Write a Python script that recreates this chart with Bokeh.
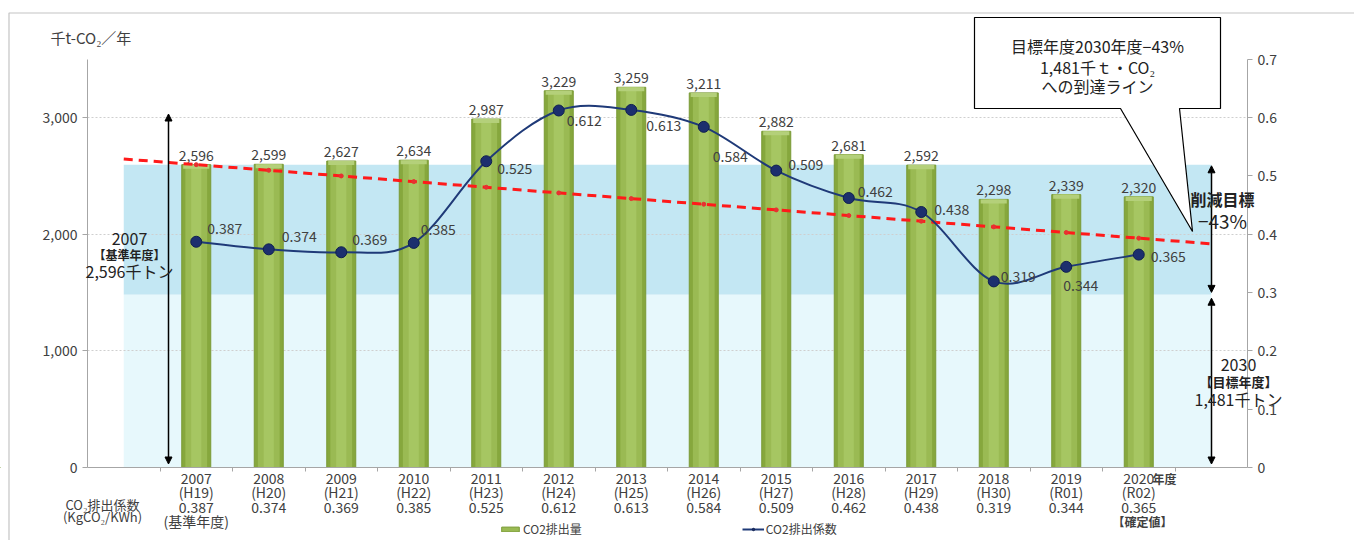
from bokeh.plotting import figure
from bokeh.layouts import column, row
from bokeh.models import (Range1d, LinearAxis, FixedTicker, Label, ColumnDataSource,
                          Arrow, NormalHead, Legend, LegendItem)
from bokeh.core.properties import value
from bokeh.embed import file_html
from bokeh.resources import INLINE

# ---------------- data ----------------
years = ["2007", "2008", "2009", "2010", "2011", "2012", "2013", "2014",
         "2015", "2016", "2017", "2018", "2019", "2020"]
eras = ["(H19)", "(H20)", "(H21)", "(H22)", "(H23)", "(H24)", "(H25)", "(H26)",
        "(H27)", "(H28)", "(H29)", "(H30)", "(R01)", "(R02)"]
emissions = [2596, 2599, 2627, 2634, 2987, 3229, 3259, 3211, 2882, 2681, 2592, 2298, 2339, 2320]
coef = [0.387, 0.374, 0.369, 0.385, 0.525, 0.612, 0.613, 0.584, 0.509, 0.462, 0.438, 0.319, 0.344, 0.365]
base_value = 2596      # 2007 base year
target_value = 1481    # 2030 target
base_year = 2007
target_year = 2030
left_ticks = [0, 1000, 2000, 3000]
left_tick_labels = ["0", "1,000", "2,000", "3,000"]
right_ticks = [0, 0.1, 0.2, 0.3, 0.4, 0.5, 0.6, 0.7]
right_tick_labels = ["0", "0.1", "0.2", "0.3", "0.4", "0.5", "0.6", "0.7"]

FONT = "Noto Sans CJK JP"
TXT = "#404040"
DARK = "#222222"

xs = [i + 1.5 for i in range(len(years))]
n = len(xs)

W, H = 1354, 540
FL, FR, FT, FB = 87, 1247, 12, 467      # frame edges (px)
PXU = (FB - FT) / 3900                 # px per left-axis unit
PXX = (FR - FL) / 16                   # px per category slot

def ypx(py):
    return (FB - py) / PXU

def xpx(px):
    return (px - FL) / PXX

p = figure(width=W, height=H, output_backend="svg", toolbar_location=None,
           x_range=Range1d(0, 16), y_range=Range1d(0, 3900),
           min_border_left=FL, min_border_right=W - FR, min_border_top=FT, min_border_bottom=H - FB)
p.outline_line_color = None
p.background_fill_color = "white"
p.border_fill_color = "white"
p.extra_y_ranges = {"coef": Range1d(0, 0.78)}

# x axis: category labels as multi-line tick labels, boundary ticks as minor ticks
xlabels = {}
for i, x in enumerate(xs):
    extra = "\n(基準年度)" if i == 0 else ""
    xlabels[x] = f"{years[i]}\n{eras[i]}\n{coef[i]:.3f}{extra}"
p.xaxis.ticker = FixedTicker(ticks=xs, minor_ticks=list(range(1, 16)))
p.xaxis.major_label_overrides = xlabels
p.xaxis.major_label_text_font = FONT
p.xaxis.major_label_text_font_size = "14px"
p.xaxis.major_label_text_color = TXT
p.xaxis.major_label_text_line_height = 0.73
p.xaxis.major_label_standoff = -4
p.xaxis.axis_line_color = "#a6a6a6"
p.xaxis.minor_tick_line_color = "#a6a6a6"
p.xaxis.minor_tick_in = 0
p.xaxis.minor_tick_out = 4
p.xaxis.major_tick_line_color = None
p.xaxis.major_tick_out = 0
p.xaxis.major_tick_in = 0

ax = p.yaxis[0]
ax.ticker = FixedTicker(ticks=left_ticks)
ax.major_label_overrides = {t: l for t, l in zip(left_ticks, left_tick_labels)}
ax.bounds = (0, 3500)
ax.axis_line_color = "#a6a6a6"
ax.major_tick_line_color = "#a6a6a6"
ax.minor_tick_line_color = None
ax.major_tick_in = 0
ax.major_tick_out = 5
ax.major_label_text_font = FONT
ax.major_label_text_font_size = "14px"
ax.major_label_text_color = TXT

ra = LinearAxis(y_range_name="coef", ticker=FixedTicker(ticks=right_ticks), bounds=(0, 0.7))
ra.major_label_overrides = {t: l for t, l in zip(right_ticks, right_tick_labels)}
ra.axis_line_color = "#a6a6a6"
ra.major_tick_line_color = "#a6a6a6"
ra.minor_tick_line_color = None
ra.major_tick_in = 0
ra.major_tick_out = 5
ra.major_label_text_font = FONT
ra.major_label_text_font_size = "14px"
ra.major_label_text_color = TXT
p.add_layout(ra, "right")

p.xgrid.visible = False
p.ygrid.ticker = FixedTicker(ticks=left_ticks[1:])
p.ygrid.grid_line_color = "#cfcfcf"
p.ygrid.grid_line_dash = "2 2"

# background bands
p.quad(left=[0.5], right=[15.5], bottom=[target_value], top=[base_value],
       fill_color="#c3e7f3", line_color=None, level="underlay")
p.quad(left=[0.5], right=[15.5], bottom=[0], top=[target_value],
       fill_color="#e7f8fc", line_color=None, level="underlay")

# bars with pseudo-3D shading
bar_src = ColumnDataSource(dict(x=xs, top=emissions, cap=[v - 35 for v in emissions],
                                lab=[f"{v:,}" for v in emissions]))
p.vbar(x="x", top="top", width=0.4, source=bar_src, fill_color="#86a73d", line_color="#7a9a36")
p.vbar(x="x", top="top", width=0.3, source=bar_src, fill_color="#9aba53", line_color=None)
p.vbar(x="x", top="top", width=0.14, source=bar_src, fill_color="#a6c662", line_color=None)
p.vbar(x="x", top="top", bottom="cap", width=0.36, source=bar_src, fill_color="#b4d07a", line_color=None)
p.text(x="x", y="top", text="lab", source=bar_src, text_align="center", text_baseline="bottom",
       y_offset=-4, text_font=value(FONT), text_font_size="14px", text_color=TXT)

# red dashed target line
slope = (base_value - target_value) / (target_year - base_year)
tx = [0.5, 15.5]
ty = [base_value - slope * (x - 1.5) for x in tx]
p.line(tx, ty, line_color="#ff1a1a", line_width=3, line_dash="9 6")
p.scatter(xs, [base_value - slope * (x - 1.5) for x in xs], size=4, color="#e83030")

# smooth coefficient line (Catmull-Rom as bezier segments)
bx0, by0, bx1, by1, cx0, cy0, cx1, cy1 = [], [], [], [], [], [], [], []
for i in range(n - 1):
    i0 = max(i - 1, 0)
    i3 = min(i + 2, n - 1)
    bx0.append(xs[i]); by0.append(coef[i])
    bx1.append(xs[i + 1]); by1.append(coef[i + 1])
    cx0.append(xs[i] + (xs[i + 1] - xs[i0]) / 6); cy0.append(coef[i] + (coef[i + 1] - coef[i0]) / 6)
    cx1.append(xs[i + 1] - (xs[i3] - xs[i]) / 6); cy1.append(coef[i + 1] - (coef[i3] - coef[i]) / 6)
p.bezier(x0=bx0, y0=by0, x1=bx1, y1=by1, cx0=cx0, cy0=cy0, cx1=cx1, cy1=cy1,
         line_color="#1f3a78", line_width=2, y_range_name="coef")
p.scatter(xs, coef, size=11, fill_color="#1c2f6e", line_color="#10204f", y_range_name="coef")

lab_dx = [11, 13, 11, 7, 11, 8, 15, 9, 12, 9, 13, 7, -3, 12]
lab_dy = [-13, -13, -13, -13, 7, 10, 16, 30, -6, -7, -3, -5, 19, 2]
coef_src = ColumnDataSource(dict(x=xs, y=coef, t=[f"{c:.3f}" for c in coef], dx=lab_dx, dy=lab_dy))
p.text(x="x", y="y", text="t", x_offset="dx", y_offset="dy", source=coef_src, y_range_name="coef",
       text_align="left", text_baseline="middle", text_font=value(FONT), text_font_size="14px",
       text_color=TXT)

# arrows (inside the frame)
head = dict(size=7, fill_color="black", line_color="black")
p.add_layout(Arrow(start=NormalHead(**head), end=NormalHead(**head),
                   x_start=xpx(168), y_start=30, x_end=xpx(168), y_end=3030,
                   line_color="black", line_width=1.5))
xr = xpx(1211)
p.add_layout(Arrow(start=NormalHead(**head), end=NormalHead(**head),
                   x_start=xr, y_start=target_value + 20, x_end=xr, y_end=base_value - 10,
                   line_color="black", line_width=1.5))
p.add_layout(Arrow(start=NormalHead(**head), end=NormalHead(**head),
                   x_start=xr, y_start=30, x_end=xr, y_end=target_value - 30,
                   line_color="black", line_width=1.5))

# ---------- transparent overlay using the same data coordinates over the whole canvas ----------
q = figure(width=W, height=H, output_backend="svg", toolbar_location=None,
           x_range=Range1d(xpx(0), xpx(W)), y_range=Range1d(ypx(H), ypx(0)),
           x_axis_type=None, y_axis_type=None, min_border=0)
q.grid.visible = False
q.outline_line_color = None
q.background_fill_alpha = 0
q.border_fill_alpha = 0

# thin border of the original picture
q.line([xpx(8.5), xpx(8.5), xpx(W)], [ypx(H), ypx(12.5), ypx(12.5)], line_color="#c4c4c4", line_width=1.2)

def lab(t, px, py, fs="13px", st="normal", color=TXT, align="center"):
    q.add_layout(Label(x=xpx(px), y=ypx(py), text=t, text_align=align, text_baseline="middle",
                       text_font=FONT, text_font_size=fs, text_font_style=st, text_color=color))

lab("千t-CO₂／年", 50, 37, "15px", align="left")
lab("CO₂排出係数", 102, 504)
lab("(KgCO₂/KWh)", 102, 516)
lab("年度", 1152, 478, "12px", "bold", align="left")
lab("【確定値】", 1142, 521, "12px", "bold")

lab("2007", 129, 238, "16px", color=DARK)
lab("【基準年度】", 129, 254, "12px", "bold", DARK)
lab("2,596千トン", 129, 270, "16px", color=DARK)

lab("削減目標", 1222, 198, "16px", "bold", DARK)
lab("−43%", 1222, 220, "19px", color=DARK)
lab("2030", 1238, 364, "16px", color=DARK)
lab("【目標年度】", 1238, 381, "13px", "bold", DARK)
lab("1,481千トン", 1238, 398, "16px", color=DARK)

# callout box
cx = [xpx(v) for v in [974, 1220, 1220, 1179, 1192, 1120, 974]]
cy = [ypx(v) for v in [17, 17, 108, 108, 231, 108, 108]]
q.patch(cx, cy, fill_color="white", line_color="black", line_width=1.2)
lab("目標年度2030年度−43%", 1097, 45, "16px", color=DARK)
lab("1,481千ｔ・CO₂", 1097, 66, "16px", color=DARK)
lab("への到達ライン", 1097, 85, "16px", color=DARK)

# legend (below the category labels); legend renderers hold one point outside the view
off = [xpx(-500)]
lg_bar = q.vbar(x=off, top=[0], width=0.4, fill_color="#9aba53", line_color="#7a9a36")
lg_line = q.line(off, [0], line_color="#1f3a78", line_width=2)
lg_dot = q.scatter(off, [0], size=7, fill_color="#1c2f6e", line_color="#10204f")
lg = Legend(items=[LegendItem(label="CO2排出量", renderers=[lg_bar]),
                   LegendItem(label="CO2排出係数", renderers=[lg_line, lg_dot])],
            location=(499, 3), orientation="horizontal", spacing=160,
            background_fill_alpha=0, border_line_color=None, padding=0, margin=0,
            glyph_width=22, glyph_height=6, label_height=14, label_standoff=2,
            label_text_font=FONT, label_text_font_size="12px", label_text_color=TXT)
q.add_layout(lg, "center")

overlay = row(q)
overlay.margin = (-H, 0, 0, 0)
open("out.html", "w").write(file_html(column(p, overlay), INLINE))
